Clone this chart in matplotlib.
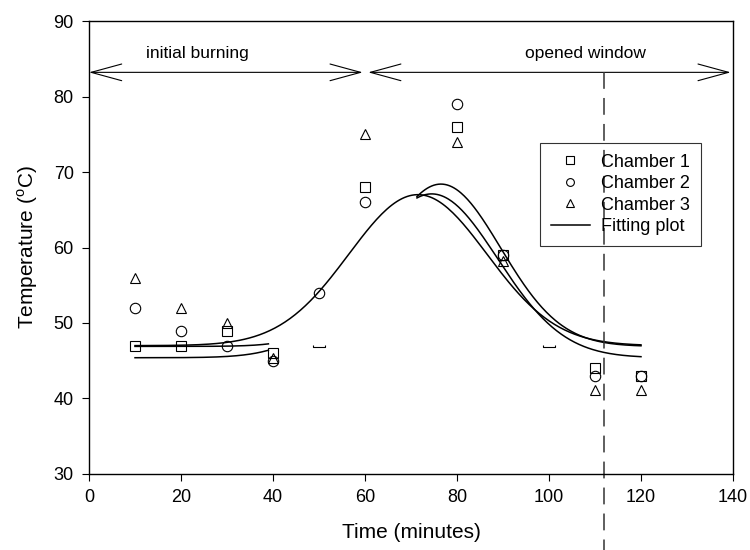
import numpy as np
import matplotlib
matplotlib.use('Agg')
import matplotlib.pyplot as plt
from matplotlib.patches import FancyArrowPatch

plt.rcParams['font.family'] = ['Liberation Sans', 'DejaVu Sans']
plt.rcParams['mathtext.fontset'] = 'custom'
plt.rcParams['mathtext.rm'] = 'Liberation Sans'

# measured temperatures
time = [10, 20, 30, 40, 60, 80, 90, 110, 120]
chamber1 = [47, 47, 49, 46, 68, 76, 59, 44, 43]
chamber2 = [52, 49, 47, 44.9, 66, 79, 59, 43, 43]
chamber3 = [56, 52, 50, 45.3, 75, 74, 58.2, 41.1, 41.1]
time2_extra = [50]
chamber2_extra = [54]
# little clipped marks at 50 and 100 min
gap_x = [50, 100]
gap_y = [46.8, 46.8]

# gaussian fits: baseline, amplitude, centre, width, drawn ranges
fits = [
    (47.0, 20.0, 71.5, 15.0, [(10, 120)]),
    (46.9, 21.5, 76.5, 13.0, [(10, 39), (71.3, 120)]),
    (45.4, 21.7, 74.5, 14.3, [(10, 39), (71.3, 120)]),
]

window_time = 112
phases = ['initial burning', 'opened window']
phase_spans = [(0, 59.5), (60.7, 139.5)]
phase_text_x = [23.5, 108]

fig = plt.figure(figsize=(7.5, 5.5), dpi=100)
ax = fig.add_axes([0.1187, 0.1382, 0.8586, 0.8236])

mk = dict(linestyle='none', mfc='none', mec='black', mew=0.8, ms=7.5)
ax.plot(time, chamber1, marker='s', label='Chamber 1', **mk)
ax.plot(time + time2_extra, chamber2 + chamber2_extra, marker='o', label='Chamber 2', **mk)
ax.plot(time, chamber3, marker='^', label='Chamber 3', **mk)
bracket = [(-1, 0.35), (-1, 0), (1, 0), (1, 0.35)]
ax.plot(gap_x, gap_y, linestyle='none', marker=bracket, ms=8, mfc='none', mec='black', mew=0.8)

for i, (y0, amp, x0, w, spans) in enumerate(fits):
    for a, b in spans:
        xx = np.linspace(a, b, 200)
        yy = y0 + amp * np.exp(-0.5 * ((xx - x0) / w) ** 2)
        ax.plot(xx, yy, color='black', lw=1.1, label='Fitting plot' if (i == 0 and a == spans[0][0]) else None)

# phase arrows
for name, (a, b), tx in zip(phases, phase_spans, phase_text_x):
    arr = FancyArrowPatch((a, 83.2), (b, 83.2), arrowstyle='<->,head_length=22,head_width=6',
                          mutation_scale=1, shrinkA=0, shrinkB=0, color='black', lw=0.8)
    ax.add_patch(arr)
    ax.text(tx, 85.7, name, ha='center', va='center', fontsize=12.5)

ax.plot([window_time, window_time], [83.2, 19.5], color='#333333', lw=1.1,
        dashes=(11, 6), clip_on=False)

ax.set_xlim(0, 140)
ax.set_ylim(30, 90)
ax.set_xticks(np.arange(0, 141, 20))
ax.set_yticks(np.arange(30, 91, 10))
ax.tick_params(direction='out', length=5, width=0.8, labelsize=13, pad=6, top=False, right=False)
for s in ax.spines.values():
    s.set_linewidth(1.0)
ax.set_xlabel('Time (minutes)', fontsize=15, labelpad=12)
ax.set_ylabel('Temperature ($^{\\mathrm{o}}$C)', fontsize=15, labelpad=10)

leg = ax.legend(loc='upper left', bbox_to_anchor=(0.70, 0.731), borderaxespad=0,
                fontsize=13, markerscale=0.75, frameon=True, fancybox=False,
                facecolor='none', edgecolor='black', handlelength=2.2,
                labelspacing=0.25, borderpad=0.6, handletextpad=0.6)
leg.get_frame().set_linewidth(0.8)

fig.savefig('out.png', dpi=100)
